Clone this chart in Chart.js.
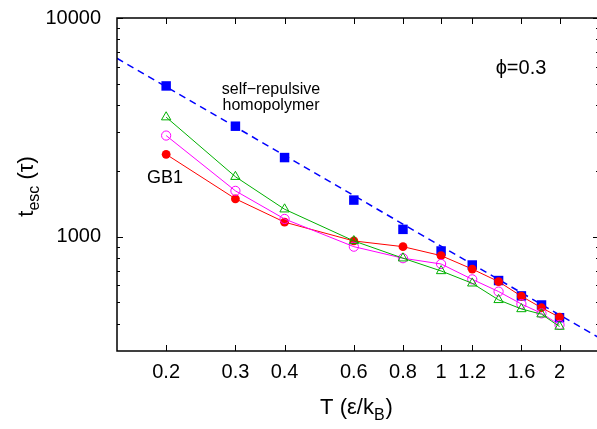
<!DOCTYPE html>
<html>
<head>
<meta charset="utf-8">
<script src="https://cdn.jsdelivr.net/npm/chart.js@4.4.1/dist/chart.umd.min.js"></script>
<style>
  html, body { margin: 0; padding: 0; background: #fff; }
  #wrap { width: 597px; height: 429px; overflow: hidden; }
  #wrap canvas { display: block; }
</style>
</head>
<body>
<div id="wrap"><canvas id="chart" width="610" height="429"></canvas></div>
<script>
// temperatures T (eps/kB)
const temps = [0.2, 0.3, 0.4, 0.6, 0.8, 1.0, 1.2, 1.4, 1.6, 1.8, 2.0];

// escape times t_esc (tau)
const homopolymer = [4890, 3200, 2300, 1470, 1080, 860, 742, 630, 536, 487, 426];
const gb1Red = [2380, 1490, 1165, 956, 900, 819, 711, 623, 534, 473, 428];
const gb1Magenta = [2900, 1620, 1205, 900, 797, 750, 638, 561, 492, 446, 395];
const gb1Green = [3520, 1880, 1335, 956, 797, 697, 612, 514, 467, 442, 388];

// dashed power-law guide through the homopolymer points
const fitT = [0.15, 2.52];
const fitValues = [6544, 345];

// axis ticks
const xTicks = [0.2, 0.3, 0.4, 0.6, 0.8, 1, 1.2, 1.6, 2];
const yMajor = [1000, 10000];
const yMinor = [400, 500, 600, 700, 800, 900, 2000, 3000, 4000, 5000, 6000, 7000, 8000, 9000];

const FONT = '"Liberation Sans", Arial, Helvetica, sans-serif';

const pts = (xs, ys) => xs.map((x, i) => ({ x, y: ys[i] }));

// frame, inward ticks, titles with subscripts, annotations
const decorations = {
  id: 'decorations',
  afterDraw(chart) {
    const { ctx, chartArea: a, scales: { x, y } } = chart;
    ctx.save();
    ctx.strokeStyle = '#000';
    ctx.lineWidth = 1.5;
    ctx.strokeRect(a.left, a.top, a.right - a.left, a.bottom - a.top);

    ctx.lineWidth = 1;
    ctx.beginPath();
    xTicks.forEach(v => {
      const px = Math.round(x.getPixelForValue(v)) + 0.5;
      ctx.moveTo(px, a.bottom); ctx.lineTo(px, a.bottom - 6);
      ctx.moveTo(px, a.top); ctx.lineTo(px, a.top + 6);
    });
    yMajor.forEach(v => {
      const py = Math.round(y.getPixelForValue(v)) + 0.5;
      ctx.moveTo(a.left, py); ctx.lineTo(a.left + 6, py);
      ctx.moveTo(a.right, py); ctx.lineTo(a.right - 6, py);
    });
    yMinor.forEach(v => {
      const py = Math.round(y.getPixelForValue(v)) + 0.5;
      ctx.moveTo(a.left, py); ctx.lineTo(a.left + 3, py);
      ctx.moveTo(a.right, py); ctx.lineTo(a.right - 3, py);
    });
    ctx.stroke();

    ctx.fillStyle = '#000';
    ctx.textBaseline = 'alphabetic';

    // x title: T (ε/k_B)
    const big = '22px ' + FONT, sub = '16px ' + FONT;
    ctx.font = big;
    const xa = 'T (ε/k', xc = ')';
    const wa = ctx.measureText(xa).width, wc = ctx.measureText(xc).width;
    ctx.font = sub;
    const wb = ctx.measureText('B').width;
    let sx = (a.left + a.right) / 2 - 2 - (wa + wb + wc) / 2;
    const by = 414;
    ctx.font = big; ctx.fillText(xa, sx, by);
    ctx.font = sub; ctx.fillText('B', sx + wa, by + 6);
    ctx.font = big; ctx.fillText(xc, sx + wa + wb + 1, by);

    // y title: t_esc (τ), rotated
    ctx.save();
    ctx.translate(33, (a.top + a.bottom) / 2 + 2);
    ctx.rotate(-Math.PI / 2);
    ctx.font = big;
    const wt = ctx.measureText('t').width, wp = ctx.measureText(' (τ)').width;
    ctx.font = sub;
    const we = ctx.measureText('esc').width;
    sx = -(wt + we + wp) / 2;
    ctx.font = big; ctx.fillText('t', sx, 0);
    ctx.font = sub; ctx.fillText('esc', sx + wt, 6);
    ctx.font = big; ctx.fillText(' (τ)', sx + wt + we, 0);
    ctx.restore();

    // annotations
    ctx.textAlign = 'center';
    ctx.textBaseline = 'middle';
    ctx.font = '16px ' + FONT;
    ctx.fillText('self\u2212repulsive', 271, 90);
    ctx.fillText('homopolymer', 271, 106);
    ctx.font = '18px ' + FONT;
    ctx.fillText('GB1', 165, 178);
    ctx.font = '20px ' + FONT;
    ctx.fillText('\u03D5=0.3', 521, 68);
    ctx.restore();
  }
};

new Chart(document.getElementById('chart'), {
  type: 'scatter',
  data: {
    datasets: [
      {
        label: 'GB1 green',
        data: pts(temps, gb1Green),
        showLine: true,
        borderColor: '#00b000',
        backgroundColor: 'rgba(0,0,0,0)',
        borderWidth: 1,
        pointStyle: 'triangle',
        pointRadius: 5.4,
        pointBorderWidth: 1,
        pointBorderColor: '#00b000',
        pointBackgroundColor: 'rgba(0,0,0,0)'
      },
      {
        label: 'GB1 magenta',
        data: pts(temps, gb1Magenta),
        showLine: true,
        borderColor: '#ff00ff',
        backgroundColor: 'rgba(0,0,0,0)',
        borderWidth: 1,
        pointStyle: 'circle',
        pointRadius: 4.6,
        pointBorderWidth: 1,
        pointBorderColor: '#ff00ff',
        pointBackgroundColor: 'rgba(0,0,0,0)'
      },
      {
        label: 'GB1 red',
        data: pts(temps, gb1Red),
        showLine: true,
        borderColor: '#ff0000',
        backgroundColor: '#ff0000',
        borderWidth: 1,
        pointStyle: 'circle',
        pointRadius: 4.4,
        pointBorderWidth: 0,
        pointBackgroundColor: '#ff0000'
      },
      {
        label: 'homopolymer',
        data: pts(temps, homopolymer),
        showLine: false,
        pointStyle: 'rect',
        pointRadius: 6.7,
        pointBorderWidth: 0,
        pointBackgroundColor: '#0000ff',
        backgroundColor: '#0000ff'
      },
      {
        label: 'fit',
        data: pts(fitT, fitValues),
        showLine: true,
        borderColor: '#0000ff',
        borderWidth: 1.5,
        borderDash: [7, 5],
        pointRadius: 0
      }
    ]
  },
  options: {
    responsive: false,
    animation: false,
    layout: { padding: { top: 18, right: 11, left: 0, bottom: 0 } },
    plugins: { legend: { display: false }, tooltip: { enabled: false } },
    scales: {
      x: {
        type: 'logarithmic',
        min: 0.15,
        max: 2.52,
        grid: { display: false, drawTicks: false },
        border: { display: false },
        afterBuildTicks: s => { s.ticks = xTicks.map(v => ({ value: v })); },
        afterFit: s => { s.height = 78; s.paddingLeft = 0; s.paddingRight = 0; },
        ticks: {
          color: '#000',
          padding: 9,
          maxRotation: 0,
          autoSkip: false,
          font: { family: FONT, size: 20 },
          callback: v => String(v)
        }
      },
      y: {
        type: 'logarithmic',
        min: 300,
        max: 10000,
        grid: { display: false, drawTicks: false },
        border: { display: false },
        afterBuildTicks: s => { s.ticks = yMajor.map(v => ({ value: v })); },
        afterFit: s => { s.width = 117; s.paddingTop = 0; s.paddingBottom = 0; },
        ticks: {
          color: '#000',
          padding: 16,
          font: { family: FONT, size: 20 },
          callback: v => String(v)
        }
      }
    }
  },
  plugins: [decorations]
});
</script>
</body>
</html>
